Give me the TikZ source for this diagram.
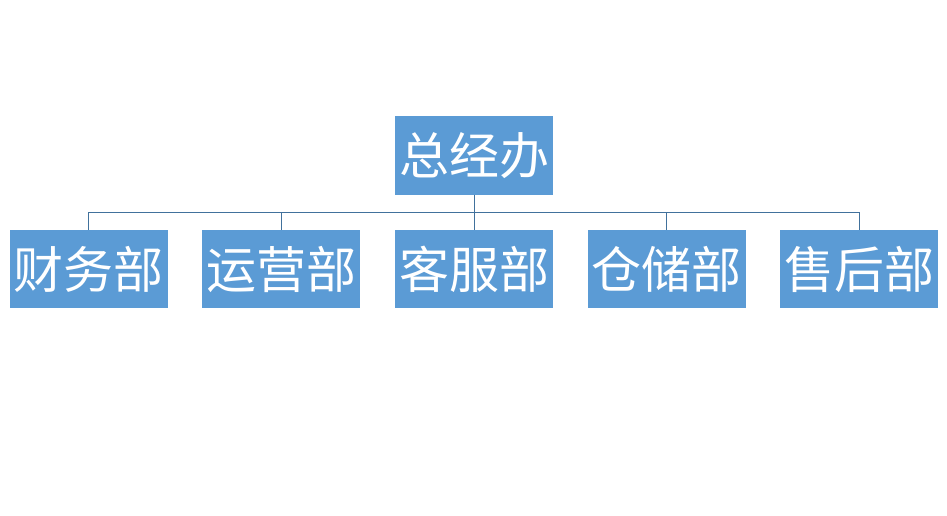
\documentclass[tikz,border=0pt]{standalone}
\usepackage{fontspec}
\newfontfamily\cjk{Noto Sans CJK SC}
\definecolor{boxfill}{HTML}{5B9BD5}
\definecolor{linecol}{HTML}{41719C}
\tikzset{
  orgbox/.style={rectangle, fill=boxfill, text=white, minimum width=158pt, minimum height=78pt, inner sep=0pt, font=\cjk\fontsize{50}{50}\selectfont},
  conn/.style={draw=linecol, line width=0.8pt}
}
\begin{document}
\begin{tikzpicture}[x=1pt,y=-1pt]
\useasboundingbox (0,0) rectangle (947,516);
\node[orgbox] (top) at (474,155.5) {总经办};
\node[orgbox] (b1) at (88.5,269) {财务部};
\node[orgbox] (b2) at (281,269) {运营部};
\node[orgbox] (b3) at (474,269) {客服部};
\node[orgbox] (b4) at (666.5,269) {仓储部};
\node[orgbox] (b5) at (859,269) {售后部};
\coordinate (j) at (474,212.5);
\draw[conn] (top.south) -- (j);
\foreach \b in {b1,b2,b3,b4,b5}{
  \draw[conn] (\b.north) -- (\b.north |- j) -- (j);
}
\end{tikzpicture}
\end{document}
